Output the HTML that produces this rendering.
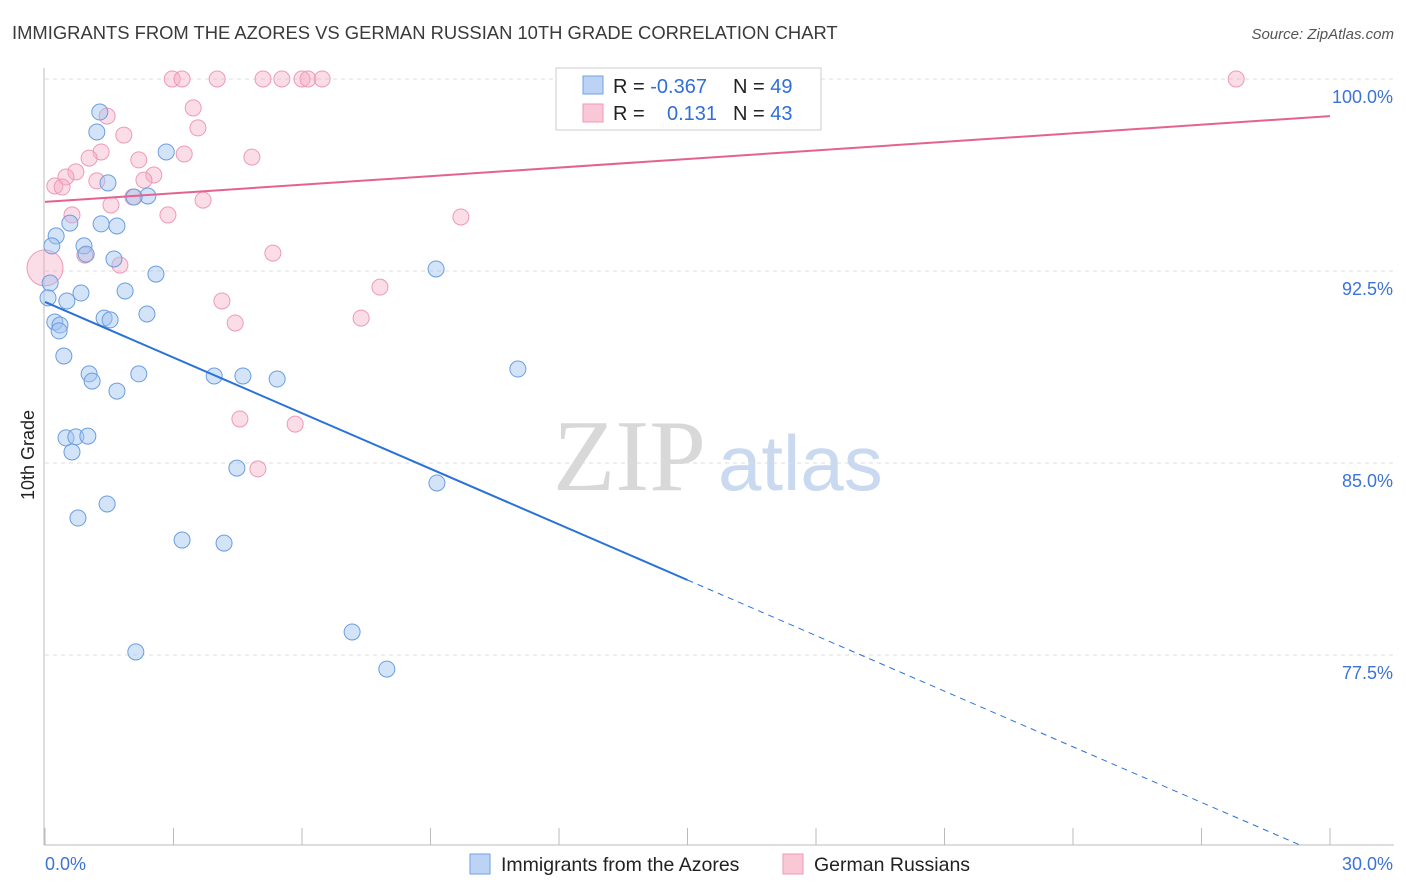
<!DOCTYPE html>
<html><head><meta charset="utf-8"><style>
body{margin:0;background:#fff;font-family:"Liberation Sans",sans-serif;}
#wrap{position:relative;width:1406px;height:892px;overflow:hidden;}
</style></head><body>
<div id="wrap">
<svg id="svg" width="1406" height="892" xmlns="http://www.w3.org/2000/svg">
<text x="12" y="39" font-size="18.4" fill="#3a3a3a">IMMIGRANTS FROM THE AZORES VS GERMAN RUSSIAN 10TH GRADE CORRELATION CHART</text>
<text x="1394" y="39" font-size="15" fill="#555" text-anchor="end" font-style="italic">Source: ZipAtlas.com</text>
<text transform="translate(34,455) rotate(-90)" font-size="18" fill="#222" text-anchor="middle">10th Grade</text>
<text x="553" y="490" font-size="102" fill="#d8d8d8" font-family="Liberation Serif,serif">ZIP</text>
<text x="718" y="490" font-size="78" fill="#c9d9f0">atlas</text>
<g id="grid"></g><g id="axes"></g><g id="pts"></g><g id="lines"></g>
<g>
<rect x="556" y="68" width="265" height="62" fill="#fff" stroke="#ccc"/>
<rect x="583" y="76" width="20" height="18" fill="#bcd3f5" stroke="#6fa0e0"/>
<rect x="583" y="104" width="20" height="18" fill="#f9c7d6" stroke="#ee9ab5"/>
<text x="613" y="93" font-size="20" fill="#222">R = <tspan fill="#2f6fd6">-0.367</tspan><tspan x="733">N = </tspan><tspan fill="#2f6fd6">49</tspan></text>
<text x="613" y="120" font-size="20" fill="#222">R = <tspan x="667" fill="#2f6fd6">0.131</tspan><tspan x="733">N = </tspan><tspan fill="#2f6fd6">43</tspan></text>
</g>
<g>
<rect x="470" y="854" width="20" height="20" fill="#bcd3f5" stroke="#6fa0e0"/>
<text x="501" y="871" font-size="19.5" fill="#222">Immigrants from the Azores</text>
<rect x="783" y="854" width="20" height="20" fill="#f9c7d6" stroke="#ee9ab5"/>
<text x="814" y="871" font-size="19.5" fill="#222">German Russians</text>
</g>
</svg>
</div>
<script>
const yTicks=[100,92.5,85,77.5];
const yTickLabels=["100.0%","92.5%","85.0%","77.5%"];
const xTicks=[0,3,6,9,12,15,18,21,24,27,30];
const blueX=[1.28,1.21,2.83,1.47,2.40,2.08,0.58,1.31,1.68,0.26,0.16,0.91,0.96,1.61,2.59,9.13,0.12,0.84,1.87,0.51,0.07,1.38,1.52,2.38,0.23,0.35,0.33,0.44,1.03,2.19,1.10,3.95,4.62,5.42,11.04,1.68,0.49,0.72,1.00,0.63,4.48,9.15,1.45,0.77,3.20,4.18,7.17,2.12,7.98];
const blueY=[98.71,97.93,97.15,95.94,95.43,95.39,94.37,94.34,94.26,93.87,93.48,93.48,93.16,92.97,92.38,92.58,92.03,91.64,91.72,91.33,91.45,90.66,90.59,90.82,90.51,90.39,90.16,89.18,88.48,88.48,88.20,88.40,88.40,88.28,88.67,87.81,85.98,86.02,86.05,85.43,84.80,84.22,83.40,82.85,81.99,81.87,78.40,77.62,76.95];
const pinkX=[0,2.97,3.20,4.02,5.09,5.53,6.00,6.14,6.47,12.49,27.81,1.45,3.46,3.57,1.84,1.31,3.25,1.03,2.19,4.83,0.72,0.49,2.54,2.31,1.21,0.23,0.40,2.05,3.69,1.54,0.63,2.87,9.71,0.93,5.32,1.75,7.82,4.13,7.38,4.44,4.55,5.84,4.97];
const pinkY=[92.62,100,100,100,100,100,100,100,100,100,100,98.55,98.87,98.09,97.81,97.15,97.07,96.91,96.84,96.95,96.37,96.17,96.25,96.05,96.02,95.82,95.78,95.39,95.27,95.08,94.69,94.69,94.61,93.12,93.20,92.73,91.87,91.33,90.66,90.47,86.72,86.52,84.77];
const blueLine=[91.29,69.57];
const pinkLine=[95.20,98.55];
const yMin=70.05;
const NS="http://www.w3.org/2000/svg";
const X=v=>45+v*1285/30;
const Y=v=>79+(100-v)*25.6;
function mk(t,a,p){const e=document.createElementNS(NS,t);for(const k in a)e.setAttribute(k,a[k]);document.getElementById(p).appendChild(e);return e;}
yTicks.forEach((t,i)=>{
 const g=mk('line',{x1:45,x2:1394,y1:Y(t),y2:Y(t),stroke:'#ddd','stroke-dasharray':'4,4'},'grid');
 
 
 const l=mk('text',{x:1393,y:Y(t)+24,'font-size':18,fill:'#3b73d6','text-anchor':'end'},'axes');
 l.textContent=yTickLabels[i];
 
 
});
mk('line',{x1:44,x2:44,y1:68,y2:845,stroke:'#bbb'},'axes');
mk('line',{x1:44,x2:1394,y1:845,y2:845,stroke:'#bbb'},'axes');
xTicks.forEach(t=>{const e=mk('line',{x1:X(t),x2:X(t),y1:828,y2:845,stroke:'#bbb'},'axes');
 
 });
const xl0=mk('text',{x:45,y:870,'font-size':18,fill:'#3b73d6'},'axes');xl0.textContent='0.0%';


const xl1=mk('text',{x:1393,y:870,'font-size':18,fill:'#3b73d6','text-anchor':'end'},'axes');xl1.textContent='30.0%';


pinkX.forEach((x,i)=>{const c=mk('circle',{cx:X(x),cy:Y(pinkY[i]),r:i===0?18:8,fill:'rgba(245,170,195,0.4)',stroke:'#ee9ab5','stroke-width':1},'pts');
 
 });
blueX.forEach((x,i)=>{const c=mk('circle',{cx:X(x),cy:Y(blueY[i]),r:8,fill:'rgba(160,195,240,0.45)',stroke:'#6b9de0','stroke-width':1},'pts');
 
 });
const by=x=>blueLine[0]+(blueLine[1]-blueLine[0])*x/30;
const xEnd=Math.min(30,(yMin-blueLine[0])*30/(blueLine[1]-blueLine[0]));
const b1=mk('line',{x1:X(0),y1:Y(by(0)),x2:X(15),y2:Y(by(15)),stroke:'#2a72d8','stroke-width':2},'lines');


const b2=mk('line',{x1:X(15),y1:Y(by(15)),x2:X(xEnd),y2:Y(by(xEnd)),stroke:'#2a72d8','stroke-width':1,'stroke-dasharray':'6,5'},'lines');


const p1=mk('line',{x1:X(0),y1:Y(pinkLine[0]),x2:X(30),y2:Y(pinkLine[1]),stroke:'#e3628e','stroke-width':2},'lines');


</script>
</body></html>
